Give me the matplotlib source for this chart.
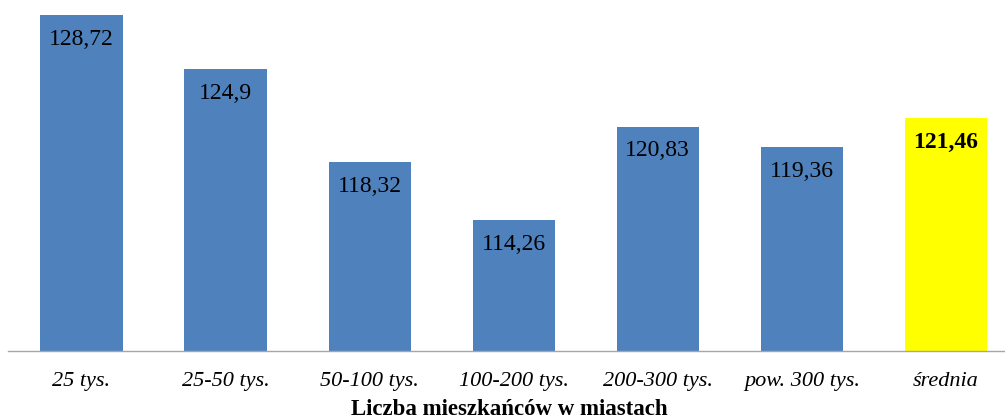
import matplotlib
matplotlib.use("Agg")
import matplotlib.pyplot as plt

categories = ["25 tys.", "25-50 tys.", "50-100 tys.", "100-200 tys.",
              "200-300 tys.", "pow. 300 tys.", "średnia"]
values = [128.72, 124.9, 118.32, 114.26, 120.83, 119.36, 121.46]
value_labels = ["128,72", "124,9", "118,32", "114,26", "120,83", "119,36", "121,46"]
x_title = "Liczba mieszkańców w miastach"

blue = "#4F81BD"
yellow = "#FFFF00"
colors = [blue] * (len(values) - 1) + [yellow]

plt.rcParams["font.family"] = ["Liberation Serif", "DejaVu Serif"]

W, H = 1005, 419
fig = plt.figure(figsize=(W / 100, H / 100), dpi=100)
ax = fig.add_axes([8 / W, 1 - 351 / H, 1 - 8 / W, 351 / H])

xs = list(range(len(values)))
ax.bar(xs, [v - 105 for v in values], bottom=105, width=0.57, color=colors, zorder=2)

ax.set_xlim(-0.51, 6.41)
ax.set_ylim(105, 129.76)

for i, (v, lab) in enumerate(zip(values, value_labels)):
    last = i == len(values) - 1
    ax.annotate(lab, (i, v), xytext=(0, -17.5), textcoords="offset points",
                ha="center", va="center", fontsize=17,
                fontweight="bold" if last else "normal", color="black")

for s in ["left", "right", "top"]:
    ax.spines[s].set_visible(False)
ax.spines["bottom"].set_color("#a6a6a6")
ax.spines["bottom"].set_linewidth(1.0)
ax.set_yticks([])
ax.set_xticks(xs)
ax.set_xticklabels(categories, fontsize=16, fontstyle="italic")
ax.tick_params(axis="x", length=0, pad=15)

fig.text(0.5 + 7 / W, 1 - 409 / H, x_title, ha="center", va="center",
         fontsize=16.5, fontweight="bold")

fig.savefig("out.png", dpi=100)
